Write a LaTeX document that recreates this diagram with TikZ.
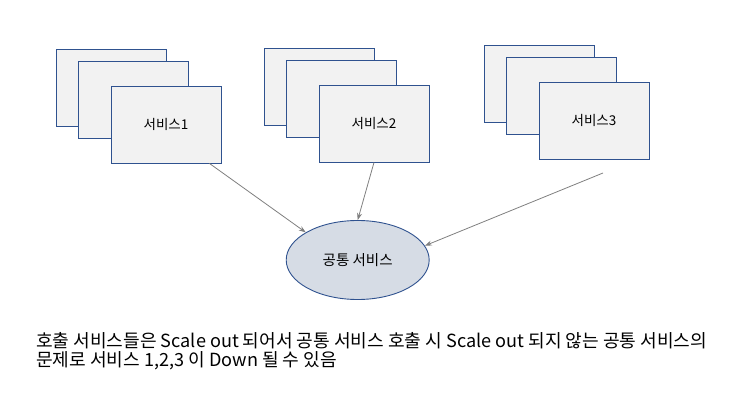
\documentclass[tikz,border=0pt]{standalone}
\usepackage{fontspec}
\setmainfont{Noto Sans CJK KR}
\usetikzlibrary{arrows.meta, positioning, shapes.geometric, calc}
\definecolor{boxline}{HTML}{2F528F}
\definecolor{boxfill}{HTML}{F2F2F2}
\definecolor{ellfill}{HTML}{D6DCE5}
\definecolor{arrowgray}{HTML}{7F7F7F}

\begin{document}
\begin{tikzpicture}[x=1pt, y=-1pt,
    svcbox/.style={draw=boxline, fill=boxfill, line width=0.9pt, minimum width=110pt, minimum height=77pt, inner sep=0pt, font=\fontsize{13.5}{16}\selectfont},
    common/.style={ellipse, draw=boxline, fill=ellfill, line width=0.9pt, minimum width=143pt, minimum height=79pt, inner sep=0pt, font=\fontsize{14.5}{17}\selectfont},
    call/.style={draw=arrowgray, line width=0.8pt, -{Stealth[length=7pt, width=5pt]}}]
  \useasboundingbox (0,0) rectangle (740,409);

  % three services, each scaled out to three instances
  \foreach \n/\x/\y in {1/111/88, 2/319/87, 3/539/84} {
    \node[svcbox] (svc\n a) at (\x,\y) {};
    \node[svcbox] (svc\n b) at (\x+22,\y+11.5) {};
    \node[svcbox] (svc\n) at (\x+55,\y+36.5) {서비스\n};
  }

  \node[common] (common) at (357.7,260) {공통 서비스};

  \coordinate (s1) at ([xshift=-12pt]svc1.south east);
  \coordinate (s3) at (603,173);

  \draw[call] (s1) -- (common.152);
  \draw[call] (svc2.south) -- (common.north);
  \draw[call] (s3) -- (common.12);

  \node[anchor=north west, align=left, inner sep=0pt, font=\fontsize{18.1}{19.5}\selectfont] (note) at (36,332)
    {호출 서비스들은 Scale out 되어서 공통 서비스 호출 시 Scale out 되지 않는 공통 서비스의\\
     문제로 서비스 1,2,3 이 Down 될 수 있음};
\end{tikzpicture}
\end{document}
